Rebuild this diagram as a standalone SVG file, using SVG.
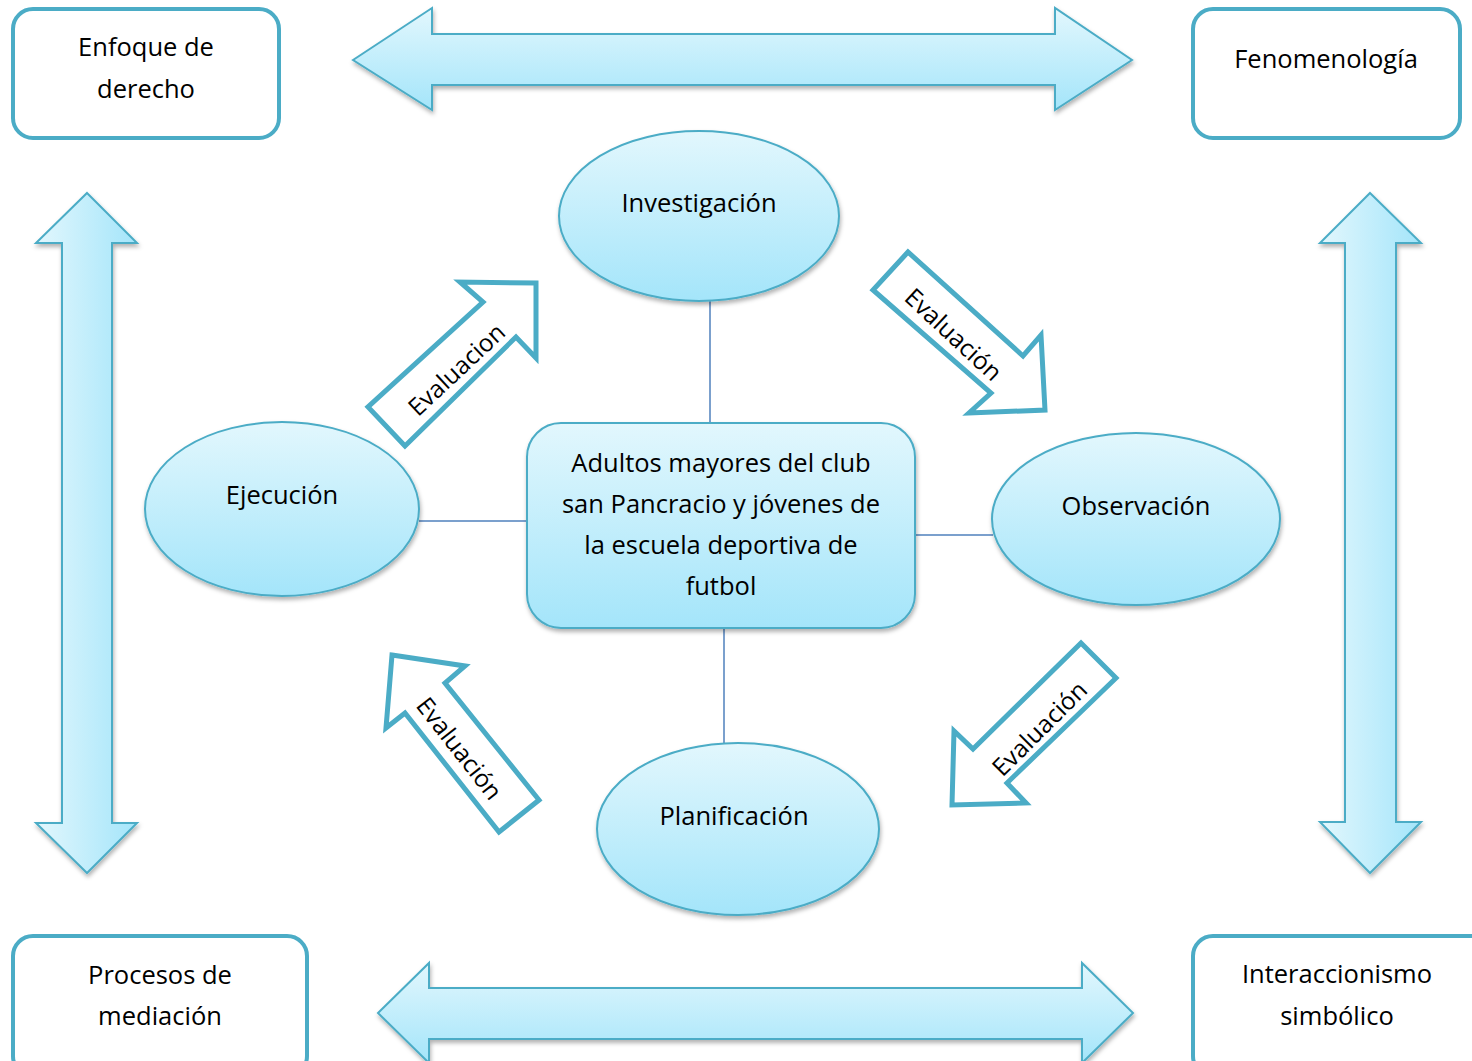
<svg xmlns="http://www.w3.org/2000/svg" width="1472" height="1061" viewBox="0 0 1472 1061">
<defs>
<linearGradient id="gv" x1="0" y1="0" x2="0" y2="1">
<stop offset="0" stop-color="#e2f7fd"/>
<stop offset="1" stop-color="#a4e5fa"/>
</linearGradient>
<linearGradient id="gh" x1="0" y1="0" x2="1" y2="0">
<stop offset="0" stop-color="#e2f7fd"/>
<stop offset="1" stop-color="#a4e5fa"/>
</linearGradient>
<filter id="sh" x="-10%" y="-10%" width="120%" height="130%">
<feDropShadow dx="1" dy="3" stdDeviation="2" flood-color="#000" flood-opacity="0.3"/>
</filter>
</defs>
<style>
.blue{fill:url(#gv);stroke:#4bacc6;stroke-width:2;filter:url(#sh)}
.blueh{fill:url(#gh);stroke:#4bacc6;stroke-width:2;filter:url(#sh)}
.box{fill:#fff;stroke:#4bacc6;stroke-width:4}
.eval{fill:#fff;stroke:#4bacc6;stroke-width:5;stroke-linejoin:miter}
.conn{stroke:#4f81bd;stroke-width:1.5;fill:none}
text{font-family:"Open Sans","Liberation Sans",sans-serif;font-size:25.5px;fill:#000;text-anchor:middle;dominant-baseline:central}
.ev{font-size:24.5px}
</style>

<g id="connectors">
<line class="conn" x1="710" y1="301" x2="710" y2="423"/>
<line class="conn" x1="419" y1="521" x2="527" y2="521"/>
<line class="conn" x1="915" y1="535" x2="993" y2="535"/>
<line class="conn" x1="724" y1="627" x2="724" y2="744"/>
</g>

<g id="arrow-top">
<polygon class="blue" points="353,60 432,8 432,34 1055,34 1055,8 1132,60 1055,110 1055,85 432,85 432,110"/>
</g>
<g id="arrow-bottom">
<polygon class="blue" points="378,1013 429,963 429,988 1082,988 1082,963 1133,1013 1082,1063 1082,1039 429,1039 429,1063"/>
</g>
<g id="arrow-left">
<polygon class="blueh" points="87,193 137,243 112,243 112,823 137,823 87,873 36,823 62,823 62,243 36,243"/>
</g>
<g id="arrow-right">
<polygon class="blueh" points="1370,193 1421,243 1396,243 1396,822 1421,822 1370,873 1320,822 1345,822 1345,243 1320,243"/>
</g>

<g id="box-enfoque">
<rect class="box" x="13" y="9" width="266" height="129" rx="20"/>
<text x="146" y="46">Enfoque de</text>
<text x="146" y="88">derecho</text>
</g>
<g id="box-fenomenologia">
<rect class="box" x="1193" y="9" width="267" height="129" rx="20"/>
<text x="1326" y="58">Fenomenología</text>
</g>
<g id="box-procesos">
<rect class="box" x="13" y="936" width="294" height="140" rx="20"/>
<text x="160" y="974">Procesos de</text>
<text x="160" y="1015">mediación</text>
</g>
<g id="box-interaccionismo">
<rect class="box" x="1193" y="936" width="300" height="140" rx="20"/>
<text x="1337" y="973">Interaccionismo</text>
<text x="1337" y="1015">simbólico</text>
</g>

<g id="node-investigacion">
<ellipse class="blue" cx="699" cy="216" rx="140" ry="85"/>
<text x="699" y="202">Investigación</text>
</g>
<g id="node-ejecucion">
<ellipse class="blue" cx="282" cy="509" rx="137" ry="87"/>
<text x="282" y="494">Ejecución</text>
</g>
<g id="node-observacion">
<ellipse class="blue" cx="1136" cy="519" rx="144" ry="86"/>
<text x="1136" y="505">Observación</text>
</g>
<g id="node-planificacion">
<ellipse class="blue" cx="738" cy="829" rx="141" ry="86"/>
<text x="734" y="815">Planificación</text>
</g>
<g id="node-center">
<rect class="blue" x="527" y="423" width="388" height="205" rx="34"/>
<text x="721" y="462">Adultos mayores del club</text>
<text x="721" y="503">san Pancracio y jóvenes de</text>
<text x="721" y="544">la escuela deportiva de</text>
<text x="721" y="585">futbol</text>
</g>

<g id="eval-1">
<polygon class="eval" points="405,446 368,407 483,302 460,282 536,283 536,358 516,337"/>
<text class="ev" transform="translate(456,369) rotate(-43)">Evaluacion</text>
</g>
<g id="eval-2">
<polygon class="eval" points="908,252 873,290 991,393 969,413 1045,410 1041,335 1023,356"/>
<text class="ev" transform="translate(954,334) rotate(43)">Evaluación</text>
</g>
<g id="eval-3">
<polygon class="eval" points="392,655 465,666 445,683 539,800 499,832 405,713 386,728"/>
<text class="ev" transform="translate(460,748) rotate(52)">Evaluación</text>
</g>
<g id="eval-4">
<polygon class="eval" points="1081,643 1116,678 1007,783 1026,803 952,805 954,731 973,749"/>
<text class="ev" transform="translate(1039,728) rotate(-45)">Evaluación</text>
</g>
</svg>
